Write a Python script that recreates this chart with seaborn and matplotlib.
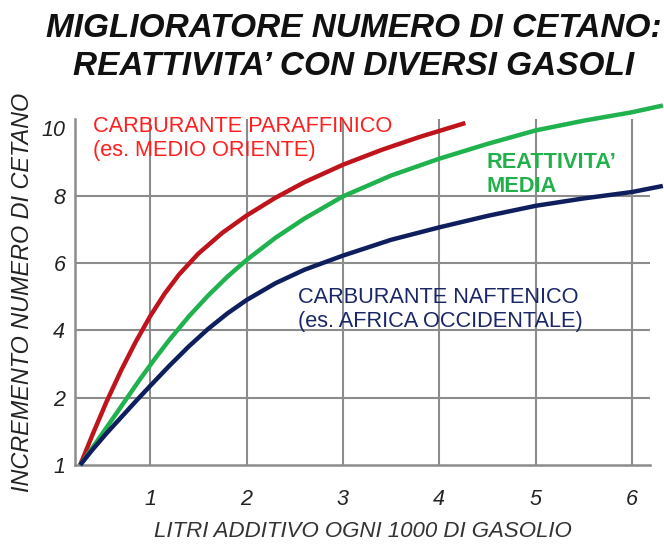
import matplotlib
matplotlib.use("Agg")
import matplotlib.pyplot as plt
import seaborn as sns
import pandas as pd

# curve readings (litri additivo / incremento numero di cetano)
x_paraff = [0.274, 0.4, 0.55, 0.7, 0.85, 1.0, 1.15, 1.3, 1.5, 1.75, 2.0, 2.3, 2.6, 3.0, 3.4, 3.8, 4.27]
y_paraff = [0.0, 0.89, 1.9, 2.82, 3.66, 4.42, 5.09, 5.66, 6.28, 6.9, 7.41, 7.94, 8.4, 8.92, 9.36, 9.75, 10.16]

x_media = [0.274, 0.45, 0.6, 0.75, 0.9, 1.05, 1.2, 1.4, 1.6, 1.8, 2.0, 2.3, 2.6, 3.0, 3.5, 4.0, 4.5, 5.0, 5.5, 6.0, 6.32]
y_media = [0.0, 0.71, 1.33, 1.95, 2.57, 3.16, 3.72, 4.41, 5.03, 5.59, 6.09, 6.75, 7.32, 7.98, 8.6, 9.1, 9.54, 9.94, 10.23, 10.48, 10.68]

x_naft = [0.274, 0.4, 0.55, 0.7, 0.85, 1.0, 1.2, 1.4, 1.6, 1.8, 2.0, 2.3, 2.6, 3.0, 3.5, 4.0, 4.5, 5.0, 5.5, 6.0, 6.32]
y_naft = [0.0, 0.45, 0.95, 1.42, 1.89, 2.35, 2.95, 3.52, 4.04, 4.5, 4.9, 5.4, 5.8, 6.22, 6.69, 7.06, 7.4, 7.7, 7.92, 8.11, 8.29]

x_ticks = [1, 2, 3, 4, 5, 6]
y_ticks = [0, 2, 4, 6, 8, 10]
y_tick_labels = ["1", "2", "4", "6", "8", "10"]

sns.set_style("white")
plt.rcParams["font.family"] = ["Liberation Sans", "DejaVu Sans"]

fig = plt.figure(figsize=(6.64, 5.47), dpi=100)
ax = fig.add_axes([0.113, 0.15, 0.866, 0.6325])

# grid drawn by hand so that the 10 line is left out
for xv in x_ticks:
    ax.axvline(xv, color="#8c8c8c", lw=1.5, zorder=0)
for yv in y_ticks[1:-1]:
    ax.axhline(yv, color="#8c8c8c", lw=1.5, zorder=0)

curves = [
    (x_paraff, y_paraff, "#c0141c"),
    (x_media, y_media, "#1fb24e"),
    (x_naft, y_naft, "#0f1f5e"),
]
for xs, ys, col in curves:
    d = pd.DataFrame({"x": xs, "y": ys})
    sns.lineplot(data=d, x="x", y="y", color=col, lw=3.2, ax=ax,
                 sort=False, clip_on=False, zorder=3,
                 solid_capstyle="butt", solid_joinstyle="round")

ax.set_xlim(0.22, 6.187)
ax.set_ylim(0, 10.28)
ax.set_xticks(x_ticks)
ax.set_xticklabels([str(v) for v in x_ticks], fontsize=15.5, style="italic", color="#222222")
ax.set_yticks(y_ticks)
ax.set_yticklabels(y_tick_labels, fontsize=15.5, style="italic", color="#222222")
ax.tick_params(axis="x", length=0, pad=17)
ax.tick_params(axis="y", length=0, pad=7)

for s in ["top", "right"]:
    ax.spines[s].set_visible(False)
for s in ["left", "bottom"]:
    ax.spines[s].set_color("#8c8c8c")
    ax.spines[s].set_linewidth(1.8)

ax.set_xlabel("LITRI ADDITIVO OGNI 1000 DI GASOLIO", fontsize=16, style="italic",
              color="#333333", labelpad=8)
ax.set_ylabel("INCREMENTO NUMERO DI CETANO", fontsize=16.8, style="italic",
              color="#222222", labelpad=5)

ax.text(0.41, 9.69, "CARBURANTE PARAFFINICO\n(es. MEDIO ORIENTE)", color="#ff1f1f",
        fontsize=15.7, va="center", ha="left", linespacing=1.2)
ax.text(4.49, 8.62, "REATTIVITA’\nMEDIA", color="#22b04b", fontsize=15.7,
        va="center", ha="left", linespacing=1.2, fontweight="bold")
ax.text(2.53, 4.61, "CARBURANTE NAFTENICO\n(es. AFRICA OCCIDENTALE)", color="#1a2766",
        fontsize=15.7, va="center", ha="left", linespacing=1.2)

fig.text(0.533, 0.913, "MIGLIORATORE NUMERO DI CETANO:\nREATTIVITA’ CON DIVERSI GASOLI",
         ha="center", va="center", fontsize=24, fontweight="bold", style="italic",
         color="#111111", linespacing=1.3)

fig.savefig("out.png", dpi=100)
